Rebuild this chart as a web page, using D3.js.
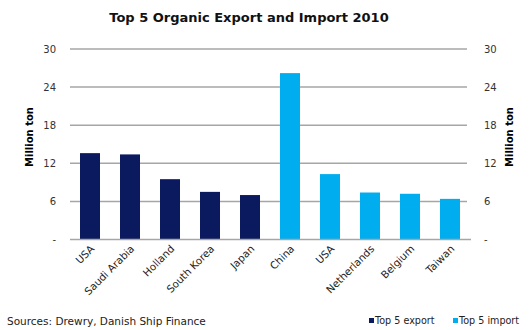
<!DOCTYPE html>
<html>
<head>
<meta charset="utf-8">
<script src="https://cdn.jsdelivr.net/npm/d3@7"></script>
<style>
  body { margin: 0; background: #fff; }
  svg { display: block; font-family: "DejaVu Sans", Verdana, sans-serif; }
</style>
</head>
<body>
<svg id="chart" width="529" height="330"></svg>
<script>
// Top 5 organic exporters and importers, 2010 (million ton)
const exportCountries = ["USA", "Saudi Arabia", "Holland", "South Korea", "Japan"];
const exportValues = [13.6, 13.4, 9.5, 7.5, 7.0];
const importCountries = ["China", "USA", "Netherlands", "Belgium", "Taiwan"];
const importValues = [26.2, 10.3, 7.4, 7.2, 6.4];
const yTicks = [0, 6, 12, 18, 24, 30];
const seriesNames = ["Top 5 export", "Top 5 import"];
const seriesColors = ["#0b1a5e", "#00adef"];

const rows = [
  ...exportCountries.map((c, i) => ({ key: "e" + i, label: c, value: exportValues[i], s: 0 })),
  ...importCountries.map((c, i) => ({ key: "i" + i, label: c, value: importValues[i], s: 1 }))
];

const svg = d3.select("#chart");
const plotL = 70, plotR = 470, plotT = 49, plotB = 239.5;

const x = d3.scaleBand().domain(rows.map(d => d.key)).range([plotL, plotR]).paddingInner(0.5).paddingOuter(0.25);
const y = d3.scaleLinear().domain([0, 30]).range([plotB, plotT]);
const tickFmt = v => v === 0 ? "-" : String(v);

// gridlines
svg.append("g").selectAll("line").data(yTicks.filter(t => t > 0)).join("line")
  .attr("x1", plotL).attr("x2", plotR - 3)
  .attr("y1", d => y(d)).attr("y2", d => y(d))
  .attr("stroke", "#a6a6a6").attr("stroke-width", 1.5);

// bars
svg.append("g").selectAll("rect").data(rows).join("rect")
  .attr("x", d => x(d.key)).attr("width", x.bandwidth())
  .attr("y", d => y(d.value)).attr("height", d => y(0) - y(d.value))
  .attr("fill", d => seriesColors[d.s]);

// baseline
svg.append("line").attr("x1", plotL).attr("x2", plotR + 1)
  .attr("y1", y(0)).attr("y2", y(0))
  .attr("stroke", "#a6a6a6").attr("stroke-width", 1.5);

// left and right value axes
const axisL = d3.axisLeft(y).tickValues(yTicks).tickFormat(tickFmt).tickSize(0).tickPadding(14);
const axisR = d3.axisRight(y).tickValues(yTicks).tickFormat(tickFmt).tickSize(0).tickPadding(14);
[ [axisL, plotL], [axisR, plotR] ].forEach(([ax, pos]) => {
  const g = svg.append("g").attr("transform", `translate(${pos},0)`).call(ax);
  g.select(".domain").remove();
  g.selectAll("text").attr("font-size", 10).attr("fill", "#333")
    .attr("font-family", "DejaVu Sans, Verdana, sans-serif");
});

// category labels
const xAxis = d3.axisBottom(x).tickFormat(k => rows.find(r => r.key === k).label).tickSize(0);
const gx = svg.append("g").attr("transform", `translate(0,${plotB})`).call(xAxis);
gx.select(".domain").remove();
gx.selectAll("text")
  .attr("font-size", 10.3).attr("fill", "#222")
  .attr("font-family", "DejaVu Sans, Verdana, sans-serif")
  .attr("text-anchor", "end")
  .attr("dy", null).attr("y", 0)
  .attr("transform", "translate(5,10) rotate(-45)");

// axis titles
svg.append("text").attr("transform", "translate(33,137) rotate(-90)")
  .attr("text-anchor", "middle").attr("font-size", 10).attr("font-weight", "bold")
  .text("Million ton");
svg.append("text").attr("transform", "translate(513,137) rotate(-90)")
  .attr("text-anchor", "middle").attr("font-size", 10).attr("font-weight", "bold")
  .text("Million ton");

// title
svg.append("text").attr("x", 249).attr("y", 22).attr("text-anchor", "middle")
  .attr("font-size", 13).attr("font-weight", "bold").attr("fill", "#111")
  .text("Top 5 Organic Export and Import 2010");

// source
svg.append("text").attr("x", 7).attr("y", 325).attr("font-size", 10.5).attr("fill", "#222")
  .text("Sources: Drewry, Danish Ship Finance");

// legend
const legX = [369, 453];
const leg = svg.append("g").selectAll("g").data(seriesNames).join("g")
  .attr("transform", (d, i) => `translate(${legX[i]},324)`);
leg.append("rect").attr("x", 0).attr("y", -6).attr("width", 5).attr("height", 5)
  .attr("fill", (d, i) => seriesColors[i]);
leg.append("text").attr("x", 6).attr("y", 0).attr("font-size", 9.6).attr("fill", "#222").text(d => d);
</script>
</body>
</html>
